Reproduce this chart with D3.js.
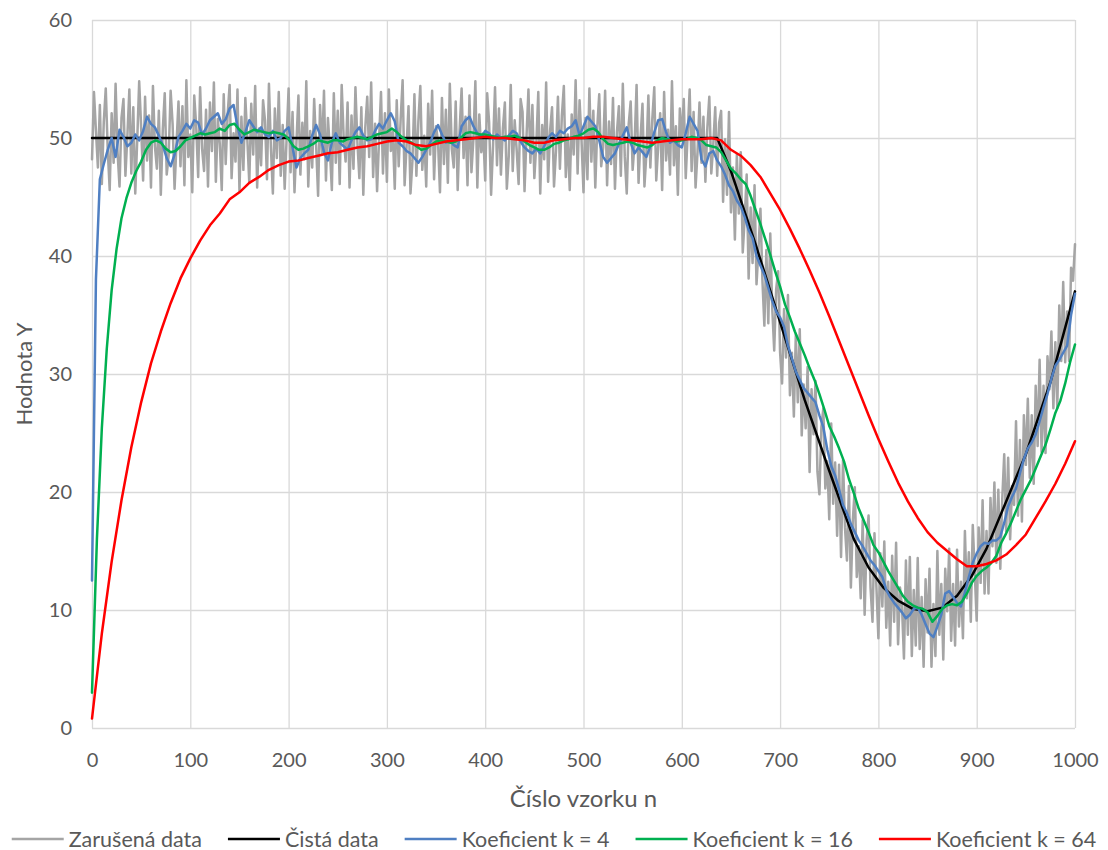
<!DOCTYPE html>
<html>
<head>
<meta charset="utf-8">
<script src="https://cdn.jsdelivr.net/npm/d3@7"></script>
<style>
  body { margin: 0; background: #fff; }
  svg { display: block; font-family: Lato, "Open Sans", sans-serif; }
</style>
</head>
<body>
<svg id="chart"></svg>
<script>
// Zarušená data (one value every 2 samples, n = 0..1000)
var noisyStep = 2;
var noisy = [
  48.2, 53.9, 50.6, 47.5, 52.8, 46.1, 51.4, 54.2, 49.0, 45.6, 52.1, 47.9, 54.6, 48.8, 45.9, 51.7, 53.3, 46.8, 50.2, 54.1,
  47.0, 52.6, 45.3, 49.8, 54.8, 50.9, 46.4, 53.5, 48.1, 51.9, 45.8, 54.4, 49.3, 47.4, 52.3, 45.2, 50.7, 53.8, 46.9, 48.5,
  54.0, 51.2, 45.7, 49.6, 53.1, 47.6, 52.7, 46.0, 54.9, 48.4, 50.3, 45.4, 53.6, 51.0, 46.7, 54.3, 49.1, 47.2, 52.4, 45.9,
  53.0, 48.9, 54.7, 46.3, 51.6, 49.5, 45.6, 53.7, 47.8, 52.0, 54.5, 46.6, 50.4, 48.0, 54.1, 45.5, 51.8, 47.3, 53.4, 49.9,
  46.2, 52.9, 48.6, 54.4, 45.8, 50.8, 47.7, 53.2, 51.5, 46.5, 54.6, 49.2, 45.3, 52.5, 48.3, 53.9, 46.8, 51.1, 45.7, 50.0,
  54.2, 47.1, 52.2, 45.4, 49.7, 53.6, 46.9, 51.3, 48.2, 54.8, 45.9, 50.6, 47.5, 53.3, 49.4, 45.1, 52.8, 48.7, 54.0, 46.4,
  51.7, 49.0, 45.6, 53.8, 47.9, 52.3, 46.1, 54.5, 50.1, 48.0, 53.0, 45.8, 51.9, 47.4, 54.3, 49.6, 46.6, 52.6, 45.2, 50.9,
  53.5, 48.4, 54.7, 46.7, 51.2, 45.5, 49.8, 53.9, 47.0, 52.1, 46.3, 54.1, 48.9, 50.5, 45.7, 53.2, 47.6, 51.6, 54.9, 46.0,
  49.3, 52.7, 45.3, 48.1, 53.7, 46.8, 51.4, 54.4, 47.3, 50.2, 45.9, 52.9, 48.6, 54.0, 46.5, 51.0, 49.7, 45.4, 53.4, 47.8,
  52.4, 46.2, 54.6, 49.1, 47.5, 53.1, 45.6, 50.7, 54.2, 48.3, 51.8, 46.0, 53.6, 47.1, 49.9, 54.8, 45.8, 52.0, 48.8, 50.4,
  46.4, 53.8, 51.3, 45.2, 49.4, 54.3, 47.7, 52.5, 46.9, 50.8, 53.0, 45.7, 48.5, 54.5, 47.2, 51.5, 49.0, 46.1, 53.3, 52.2,
  45.5, 50.1, 54.1, 47.9, 52.8, 46.6, 49.5, 53.9, 45.3, 51.1, 48.2, 54.7, 46.3, 50.6, 52.6, 45.9, 48.9, 53.5, 47.4, 51.9,
  54.4, 46.7, 50.3, 45.6, 52.0, 48.6, 54.9, 47.0, 53.2, 49.8, 45.4, 51.7, 46.5, 54.2, 48.0, 52.3, 45.8, 50.9, 53.7, 47.6,
  49.2, 54.0, 46.0, 51.4, 47.8, 53.4, 45.7, 50.5, 52.7, 46.8, 54.6, 48.4, 45.3, 51.2, 53.1, 47.3, 49.6, 54.5, 46.2, 50.0,
  52.9, 45.9, 48.7, 53.6, 47.5, 51.6, 54.3, 46.4, 49.3, 52.1, 45.6, 53.9, 48.1, 50.7, 46.9, 54.8, 47.7, 51.0, 45.2, 52.5,
  49.9, 53.3, 46.6, 50.4, 54.1, 47.2, 52.2, 45.8, 48.8, 53.0, 47.9, 51.8, 46.3, 50.9, 53.5, 47.0, 49.4, 52.6, 46.8, 51.3,
  52.3, 44.6, 49.9, 45.2, 52.2, 43.7, 47.5, 41.4, 48.6, 43.6, 48.8, 40.3, 43.2, 46.9, 38.1, 44.1, 39.4, 46.0, 37.6, 40.6,
  44.0, 38.0, 34.1, 40.5, 34.3, 41.9, 35.6, 32.0, 37.2, 38.7, 31.8, 29.2, 35.5, 31.4, 36.7, 28.2, 31.8, 26.4, 33.4, 27.6,
  33.8, 24.8, 29.1, 25.4, 30.6, 21.7, 28.7, 24.9, 29.4, 21.7, 19.8, 25.5, 27.1, 20.3, 22.6, 17.7, 25.8, 19.0, 22.5, 16.3,
  22.3, 14.5, 22.7, 17.0, 14.2, 20.5, 11.9, 17.6, 20.4, 12.8, 15.4, 11.0, 17.6, 9.6, 15.9, 18.0, 11.9, 9.0, 16.5, 11.9,
  7.6, 14.8, 10.3, 15.8, 8.5, 12.4, 7.0, 14.6, 9.0, 15.7, 7.1, 11.9, 10.3, 5.9, 14.2, 7.9, 14.5, 6.1, 11.7, 7.0,
  14.4, 6.7, 11.1, 5.2, 12.6, 8.1, 13.5, 5.2, 10.5, 6.1, 15.0, 7.9, 12.2, 5.8, 13.5, 9.9, 15.2, 7.4, 12.2, 7.0,
  15.1, 8.6, 12.4, 7.6, 16.7, 11.0, 14.9, 9.0, 17.2, 13.2, 9.1, 17.0, 12.3, 19.3, 11.4, 16.7, 11.4, 19.5, 15.4, 20.8,
  14.0, 20.2, 13.5, 19.4, 23.2, 16.6, 22.9, 16.0, 20.5, 18.9, 26.0, 18.0, 24.4, 17.5, 26.5, 22.3, 27.9, 21.2, 26.5, 20.7,
  29.0, 23.9, 31.2, 23.4, 29.0, 23.3, 31.5, 28.7, 33.6, 27.1, 32.7, 27.1, 35.8, 31.1, 37.8, 31.0, 35.3, 31.1, 39.0, 37.9,
  41.0
];

// Čistá data (breakpoints)
var cleanN = [0, 636, 650, 675, 700, 725, 750, 775, 790, 805, 820, 835, 850, 865, 880, 895, 910, 925, 950, 975, 1000];
var cleanY = [50, 50, 47.2, 41, 34.4, 27.8, 21.8, 16, 13.6, 11.9, 10.8, 10.1, 9.9, 10.2, 11.2, 12.9, 15.2, 18.2, 23.2, 29.3, 37];

// Koeficient k = 4 (every 4 samples)
var k4Step = 4;
var k4 = [
  12.5, 38.0, 46.5, 47.8, 49.0, 50.0, 48.4, 50.7, 50.1, 49.3,
  49.6, 50.3, 49.8, 50.6, 51.8, 51.2, 50.9, 50.2, 49.4, 48.3,
  47.6, 48.6, 50.1, 50.6, 51.2, 50.8, 51.5, 51.3, 50.3, 50.8,
  51.5, 51.8, 52.1, 51.2, 51.6, 52.5, 52.8, 51.0, 49.6, 50.5,
  51.5, 51.0, 50.5, 50.9, 50.3, 50.1, 50.6, 49.8, 50.0, 50.6,
  50.9, 49.2, 47.5, 48.3, 48.7, 49.0, 50.2, 51.1, 50.3, 48.8,
  48.1, 49.6, 50.4, 49.6, 49.3, 49.0, 49.8, 50.5, 50.9, 50.2,
  49.8, 49.9, 50.6, 51.2, 50.8, 51.5, 52.1, 51.4, 49.6, 49.3,
  48.9, 48.7, 48.3, 47.9, 48.4, 49.0, 49.6, 50.5, 51.1, 50.3,
  49.6, 49.8, 49.4, 49.2, 51.0, 51.5, 51.8, 51.0, 50.4, 50.1,
  50.6, 50.4, 49.9, 50.3, 50.0, 49.8, 50.2, 50.6, 50.4, 49.7,
  49.2, 48.9, 48.7, 49.1, 48.7, 49.3, 50.0, 50.4, 50.1, 50.6,
  50.4, 50.8, 51.0, 51.5, 50.2, 51.0, 51.8, 51.4, 51.0, 49.8,
  48.4, 47.9, 48.3, 48.7, 49.5, 50.2, 50.9, 49.6, 48.7, 49.2,
  48.8, 48.4, 49.3, 50.5, 51.5, 51.6, 50.5, 49.6, 49.8, 49.4,
  49.2, 50.4, 51.8, 51.2, 50.6, 48.2, 47.6, 48.7, 48.9, 48.1,
  47.6, 46.9, 46.0, 45.5, 44.7, 44.2, 43.3, 42.2, 41.5, 40.0,
  39.2, 38.4, 37.3, 36.2, 35.3, 34.8, 34.0, 32.4, 31.3, 30.2,
  29.5, 28.8, 28.4, 28.0, 27.6, 26.5, 25.5, 23.6, 22.2, 21.4,
  20.2, 18.9, 18.2, 17.3, 16.6, 15.9, 15.4, 14.8, 14.2, 13.8,
  13.3, 12.8, 11.7, 11.1, 10.6, 10.2, 9.8, 9.3, 9.6, 10.1,
  10.2, 9.6, 8.8, 8.0, 7.7, 8.6, 9.6, 11.4, 11.6, 11.1,
  10.6, 10.3, 11.5, 12.8, 14.0, 14.8, 15.4, 15.7, 15.6, 15.9,
  15.9, 16.2, 17.4, 18.8, 19.6, 20.3, 21.6, 22.8, 23.7, 24.2,
  24.9, 26.0, 27.2, 28.3, 29.6, 30.7, 31.2, 31.8, 32.4, 35.0,
  36.8
];

// Koeficient k = 16 (every 5 samples)
var k16Step = 5;
var k16 = [
  3.0, 16.0, 25.4, 32.1, 37.1, 40.6, 43.2, 44.9, 46.2, 47.2,
  48.0, 49.0, 49.6, 49.8, 49.6, 49.1, 48.8, 48.9, 49.3, 49.8,
  50.0, 50.2, 50.4, 50.3, 50.4, 50.5, 50.8, 50.6, 51.1, 51.2,
  50.7, 50.3, 50.5, 50.7, 50.6, 50.5, 50.4, 50.5, 50.4, 50.3,
  49.9, 49.3, 49.0, 49.1, 49.3, 49.5, 49.8, 49.7, 49.6, 49.8,
  49.8, 49.7, 49.9, 50.0, 50.1, 50.0, 49.9, 50.1, 50.3, 50.4,
  50.5, 50.8, 50.5, 50.1, 49.8, 49.6, 49.3, 49.0, 49.1, 49.4,
  49.7, 49.8, 49.7, 49.6, 49.7, 50.0, 50.4, 50.5, 50.4, 50.3,
  50.3, 50.2, 50.1, 50.0, 50.1, 50.1, 50.2, 50.0, 49.7, 49.4,
  49.2, 49.0, 49.0, 49.2, 49.5, 49.6, 49.8, 49.9, 50.1, 50.2,
  50.4, 50.7, 50.8, 50.5, 49.9, 49.5, 49.4, 49.5, 49.6, 49.7,
  49.6, 49.4, 49.3, 49.2, 49.4, 49.8, 50.0, 49.9, 49.8, 49.7,
  49.8, 49.9, 50.1, 50.0, 49.8, 49.4, 49.3, 49.2, 48.8, 48.1,
  47.4, 47.0, 46.5, 46.1, 45.1, 43.9, 42.7, 41.4, 40.1, 38.7,
  37.4, 35.9, 34.8, 33.6, 32.6, 31.6, 30.5, 29.5, 28.3, 27.0,
  25.6, 24.7, 23.7, 22.6, 21.1, 19.9, 18.6, 17.6, 16.6, 15.5,
  14.9, 14.1, 13.3, 12.6, 11.9, 11.2, 10.7, 10.4, 10.2, 10.1,
  9.8, 9.0, 9.5, 10.1, 10.4, 10.5, 10.4, 10.7, 11.4, 12.3,
  12.9, 13.3, 13.6, 14.0, 14.6, 15.7, 16.5, 17.4, 18.4, 19.4,
  20.2, 21.0, 22.0, 23.0, 24.0, 25.3, 26.7, 27.7, 29.2, 31.0,
  32.5
];

// Koeficient k = 64 (every 10 samples)
var k64Step = 10;
var k64 = [
  0.8, 8.0, 14.1, 19.3, 23.8, 27.6, 30.9, 33.6, 36.0, 38.1,
  39.8, 41.3, 42.6, 43.6, 44.8, 45.4, 46.2, 46.7, 47.3, 47.7,
  48.0, 48.1, 48.3, 48.5, 48.7, 48.8, 49.0, 49.2, 49.3, 49.5,
  49.7, 49.8, 49.7, 49.4, 49.3, 49.5, 49.7, 49.8, 49.9, 50.0,
  50.1, 50.0, 50.0, 49.9, 49.8, 49.6, 49.6, 49.8, 49.9, 50.0,
  50.0, 50.1, 50.1, 50.0, 49.9, 49.8, 49.7, 49.6, 49.7, 49.8,
  49.9, 49.9, 49.9, 50.0, 49.8, 49.0, 48.5, 47.7, 46.7, 45.3,
  43.9, 42.3, 40.6, 38.8, 36.9, 34.9, 32.8, 30.7, 28.6, 26.5,
  24.5, 22.6, 20.8, 19.2, 17.8, 16.6, 15.7, 15.0, 14.3, 13.7,
  13.7, 13.9, 14.2, 14.7, 15.5, 16.4, 17.8, 19.2, 20.7, 22.4,
  24.3
];

var xTicks = [0, 100, 200, 300, 400, 500, 600, 700, 800, 900, 1000];
var yTicks = [0, 10, 20, 30, 40, 50, 60];
var seriesNames = ["Zarušená data", "Čistá data", "Koeficient k = 4", "Koeficient k = 16", "Koeficient k = 64"];
var seriesColors = ["#a5a5a5", "#000000", "#4f7fc2", "#00b050", "#ff0000"];

function stepped(values, step) {
  return values.map(function(v, i) { return { n: i * step, v: v }; });
}

var width = 1108, height = 850;
var margin = { top: 20, right: 33, bottom: 122, left: 92 };

var svg = d3.select("#chart")
  .attr("width", width)
  .attr("height", height);

var x = d3.scaleLinear()
  .domain([0, 1000])
  .range([margin.left, width - margin.right]);
var y = d3.scaleLinear()
  .domain([0, 60])
  .range([height - margin.bottom, margin.top]);

// gridlines + tick labels
var xAxis = svg.append("g")
  .attr("transform", "translate(0," + y(0) + ")")
  .call(d3.axisBottom(x)
    .tickValues(xTicks)
    .tickFormat(d3.format("d"))
    .tickSize(-(y(0) - y(60)))
    .tickPadding(25));
var yAxis = svg.append("g")
  .attr("transform", "translate(" + x(0) + ",0)")
  .call(d3.axisLeft(y)
    .tickValues(yTicks)
    .tickFormat(d3.format("d"))
    .tickSize(-(x(1000) - x(0)))
    .tickPadding(20));

[xAxis, yAxis].forEach(function(g) {
  g.select(".domain").remove();
  g.selectAll(".tick line").attr("stroke", "#d9d9d9").attr("stroke-width", 1.3);
  g.selectAll(".tick text")
    .attr("fill", "#595959")
    .style("font-size", "20px")
    .style("font-family", "Lato, 'Open Sans', sans-serif");
});

// series
var line = d3.line()
  .x(function(d) { return x(d.n); })
  .y(function(d) { return y(d.v); });

var seriesData = [
  stepped(noisy, noisyStep),
  cleanN.map(function(n, i) { return { n: n, v: cleanY[i] }; }),
  stepped(k4, k4Step),
  stepped(k16, k16Step),
  stepped(k64, k64Step)
];

svg.append("g").selectAll("path")
  .data(seriesData)
  .enter()
  .append("path")
  .attr("d", line)
  .attr("fill", "none")
  .attr("stroke", function(d, i) { return seriesColors[i]; })
  .attr("stroke-width", 2.5)
  .attr("stroke-linejoin", "round")
  .attr("stroke-linecap", "round");

// axis titles
svg.append("text")
  .attr("x", (x(0) + x(1000)) / 2)
  .attr("y", 807)
  .attr("text-anchor", "middle")
  .attr("fill", "#595959")
  .style("font-size", "24px")
  .text("Číslo vzorku n");

svg.append("text")
  .attr("transform", "translate(32," + (y(0) + y(60)) / 2 + ") rotate(-90)")
  .attr("text-anchor", "middle")
  .attr("fill", "#595959")
  .style("font-size", "22px")
  .text("Hodnota Y");

// legend
var legend = svg.append("g");
var items = legend.selectAll("g")
  .data(seriesNames)
  .enter()
  .append("g");
items.append("line")
  .attr("x1", 0).attr("x2", 52)
  .attr("y1", 0).attr("y2", 0)
  .attr("stroke", function(d, i) { return seriesColors[i]; })
  .attr("stroke-width", 2.5);
items.append("text")
  .attr("x", 57)
  .attr("y", 7.5)
  .attr("fill", "#595959")
  .style("font-size", "21.5px")
  .text(function(d) { return d; });

var pos = 0;
items.each(function() {
  var g = d3.select(this);
  g.attr("transform", "translate(" + pos + ",0)");
  pos += 57 + g.select("text").node().getComputedTextLength() + 26;
});
var legendWidth = pos - 26;
legend.attr("transform", "translate(" + (width / 2 - legendWidth / 2) + ",839)");
</script>
</body>
</html>
